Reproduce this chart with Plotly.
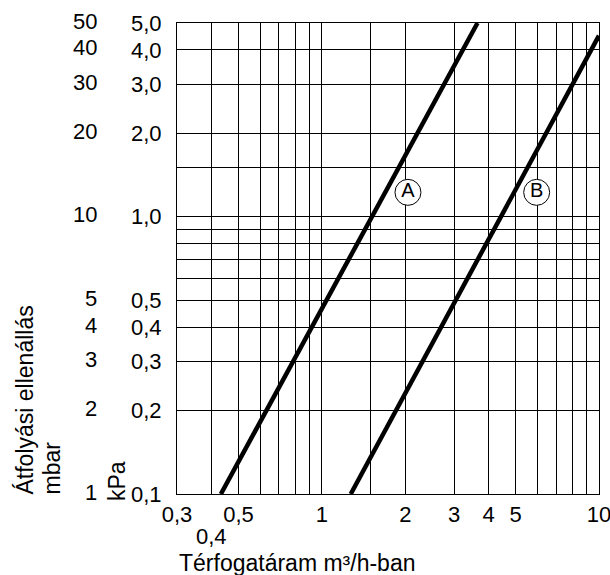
import math
import plotly.graph_objects as go

# ---- data ----
x_grid = [0.3, 0.4, 0.5, 0.6, 0.7, 0.8, 0.9, 1, 1.5, 2, 3, 4, 5, 6, 7, 8, 9, 10]
x_labels = {0.3: "0,3", 0.5: "0,5", 1: "1", 2: "2", 3: "3", 4: "4", 5: "5", 10: "10"}
x_low_label_val = 0.4
x_low_label = "0,4"

y_grid = [0.1, 0.2, 0.3, 0.4, 0.5, 0.6, 0.7, 0.8, 0.9, 1.0, 1.5, 2.0, 3.0, 4.0, 5.0]
kpa_labels = {0.1: "0,1", 0.2: "0,2", 0.3: "0,3", 0.4: "0,4", 0.5: "0,5",
              1.0: "1,0", 2.0: "2,0", 3.0: "3,0", 4.0: "4,0", 5.0: "5,0"}
mbar_vals = [0.1, 0.2, 0.3, 0.4, 0.5, 1.0, 2.0, 3.0, 4.0, 5.0]
mbar_labels = ["1", "2", "3", "4", "5", "10", "20", "30", "40", "50"]

line_A_flow = [0.432, 3.645]
line_A_dp = [0.1, 5.0]
line_B_flow = [1.271, 10.0]
line_B_dp = [0.1, 4.5]

marker_names = ["A", "B"]
marker_flow = [2.045, 5.96]
marker_dp = [1.225, 1.225]

x_title = "Térfogatáram m³/h-ban"
y_title_1 = "Átfolyási ellenállás"
y_title_2 = "mbar"
y_title_kpa = "kPa"

FONT = "Liberation Sans, Arial, sans-serif"

fig = go.Figure()
fig.add_trace(go.Scatter(x=line_A_flow, y=line_A_dp, mode="lines",
                         line=dict(color="black", width=4.5), showlegend=False))
fig.add_trace(go.Scatter(x=line_B_flow, y=line_B_dp, mode="lines",
                         line=dict(color="black", width=4.5), showlegend=False))
fig.add_trace(go.Scatter(x=marker_flow, y=marker_dp, mode="markers+text",
                         text=marker_names, textposition="middle center",
                         textfont=dict(family=FONT, size=20, color="black"),
                         marker=dict(size=26, color="white",
                                     line=dict(color="black", width=1)),
                         showlegend=False))

fig.update_xaxes(type="log", range=[math.log10(0.3), 1.0002],
                 tickvals=x_grid, ticktext=[x_labels.get(v, "") for v in x_grid],
                 showgrid=True, gridcolor="black", gridwidth=1,
                 showline=True, linecolor="black", linewidth=1, mirror=True,
                 ticks="", ticklen=0, ticklabelstandoff=1,
                 ticklabeloverflow="allow", automargin=False,
                 tickfont=dict(family=FONT, size=22, color="black"),
                 zeroline=False)
fig.update_yaxes(type="log", range=[-1, math.log10(5)],
                 tickvals=y_grid, ticktext=[kpa_labels.get(v, "") for v in y_grid],
                 showgrid=True, gridcolor="black", gridwidth=1,
                 showline=True, linecolor="black", linewidth=1, mirror=True,
                 ticks="", ticklen=0, ticklabelstandoff=10,
                 ticklabeloverflow="allow", automargin=False,
                 tickfont=dict(family=FONT, size=22, color="black"),
                 zeroline=False)

annotations = []
for v, t in zip(mbar_vals, mbar_labels):
    annotations.append(dict(xref="paper", yref="y", x=0, y=math.log10(v),
                            xanchor="right", yanchor="middle", xshift=-78, yshift=2,
                            text=t, showarrow=False,
                            font=dict(family=FONT, size=22, color="black")))
annotations.append(dict(xref="x", yref="paper", x=math.log10(x_low_label_val), y=0,
                        xanchor="center", yanchor="middle", yshift=-42,
                        text=x_low_label, showarrow=False,
                        font=dict(family=FONT, size=22, color="black")))
annotations.append(dict(xref="paper", yref="paper", x=0, y=0,
                        xanchor="left", yanchor="middle", xshift=0, yshift=-69,
                        text=x_title, showarrow=False,
                        font=dict(family=FONT, size=23, color="black")))
annotations.append(dict(xref="paper", yref="paper", x=0, y=0,
                        xanchor="center", yanchor="bottom", xshift=-153, yshift=-3,
                        textangle=-90, text=y_title_1, showarrow=False,
                        font=dict(family=FONT, size=23, color="black")))
annotations.append(dict(xref="paper", yref="paper", x=0, y=0,
                        xanchor="center", yanchor="bottom", xshift=-126, yshift=-3,
                        textangle=-90, text=y_title_2, showarrow=False,
                        font=dict(family=FONT, size=23, color="black")))
annotations.append(dict(xref="paper", yref="paper", x=0, y=0,
                        xanchor="center", yanchor="bottom", xshift=-60, yshift=-9,
                        textangle=-90, text=y_title_kpa, showarrow=False,
                        font=dict(family=FONT, size=23, color="black")))

fig.update_layout(width=610, height=575,
                  margin=dict(l=177, r=11, t=23, b=81),
                  paper_bgcolor="white", plot_bgcolor="white",
                  font=dict(family=FONT, color="black"),
                  annotations=annotations)

fig.write_html("out.html")
